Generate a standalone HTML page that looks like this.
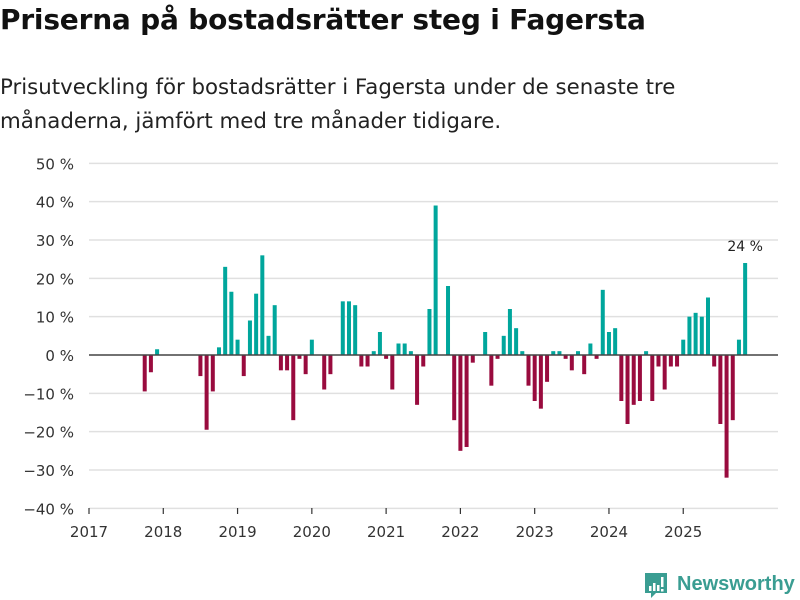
<!DOCTYPE html>
<html><head><meta charset="utf-8"><style>
body{margin:0;background:#fff;font-family:"DejaVu Sans","Liberation Sans",sans-serif;}
#wrap{position:relative;width:800px;height:600px;overflow:hidden;}
h1{position:absolute;left:0;top:3px;margin:0;font-size:28px;font-weight:bold;color:#111;letter-spacing:-0.2px;}
p.sub{position:absolute;left:0;top:71px;margin:0;font-size:21.3px;line-height:34px;color:#222;}
svg{position:absolute;left:0;top:0;}
</style></head><body><div id="wrap">
<h1>Priserna på bostadsrätter steg i Fagersta</h1>
<p class="sub">Prisutveckling för bostadsrätter i Fagersta under de senaste tre<br>månaderna, jämfört med tre månader tidigare.</p>
<svg id="chart" width="800" height="600"></svg>
</div>
<script>
const monthIndex=[9,10,11,18,19,20,21,22,23,24,25,26,27,28,29,30,31,32,33,34,35,36,38,39,41,42,43,44,45,46,47,48,49,50,51,52,53,54,55,56,58,59,60,61,62,64,65,66,67,68,69,70,71,72,73,74,75,76,77,78,79,80,81,82,83,84,85,86,87,88,89,90,91,92,93,94,95,96,97,98,99,100,101,102,103,104,105,106];
const values=[-9.5,-4.5,1.5,-5.5,-19.5,-9.5,2,23,16.5,4,-5.5,9,16,26,5,13,-4,-4,-17,-1,-5,4,-9,-5,14,14,13,-3,-3,1,6,-1,-9,3,3,1,-13,-3,12,39,18,-17,-25,-24,-2,6,-8,-1,5,12,7,1,-8,-12,-14,-7,1,1,-1,-4,1,-5,3,-1,17,6,7,-12,-18,-13,-12,1,-12,-3,-9,-3,-3,4,10,11,10,15,-3,-18,-32,-17,4,24];
const yTicks=[50,40,30,20,10,0,-10,-20,-30,-40];
const years=[2017,2018,2019,2020,2021,2022,2023,2024,2025];
const NS="http://www.w3.org/2000/svg";
const svg=document.getElementById('chart');
const x0=89,mw=6.19,yZero=355,pp=3.833;
const X=m=>x0+m*mw;
const Y=v=>yZero-v*pp;
function mk(t,a){const e=document.createElementNS(NS,t);for(const k in a)e.setAttribute(k,a[k]);svg.appendChild(e);return e;}
yTicks.forEach(t=>{
 if(t!==0){const g=mk('line',{x1:89,x2:778,y1:Y(t),y2:Y(t),stroke:'#e0e0e0','stroke-width':1.5});
 
 }
 const l=mk('text',{x:74,y:Y(t)+6,'text-anchor':'end','font-size':15,fill:'#333'});
 l.textContent=(t<0?'\u2212'+(-t):t)+' %';
 
 
});
years.forEach((yr,i)=>{
 const xx=X(i*12);
 const tk=mk('line',{x1:xx,x2:xx,y1:508,y2:514,stroke:'#333','stroke-width':1.2});
 
 
 const l=mk('text',{x:xx,y:537,'text-anchor':'middle','font-size':15,fill:'#333'});
 l.textContent=yr;
 
 
});
values.forEach((v,i)=>{
 const xx=X(monthIndex[i]);
 const r=mk('rect',{x:xx-2,width:4,y:Math.min(Y(v),yZero),height:Math.abs(Y(v)-yZero),fill:v>=0?'#00a69c':'#990b3e'});
 
 
});
const z=mk('line',{x1:89,x2:778,y1:yZero,y2:yZero,stroke:'#444','stroke-width':1.5});


const li=values.length-1;
const lab=mk('text',{x:X(monthIndex[li]),y:Y(values[li])-12,'text-anchor':'middle','font-size':14,fill:'#222'});
lab.textContent=values[li]+' %';


</script>
<svg width="800" height="600" style="position:absolute;left:0;top:0;pointer-events:none">
<path d="M645 573 h22 v20 h-11 l-5 5 v-5 h-6z" fill="#3a9d92"/>
<rect x="649" y="586" width="2.5" height="5" fill="#fff"/><rect x="653" y="583" width="2.5" height="8" fill="#fff"/><rect x="657" y="585" width="2.5" height="6" fill="#fff"/><rect x="661" y="577" width="2.5" height="10" fill="#fff"/><rect x="661" y="589" width="2.5" height="2.5" fill="#fff"/>
<text x="677" y="590" font-size="20" font-weight="bold" fill="#3a9d92" font-family="Liberation Sans, sans-serif">Newsworthy</text>
</svg>
</body></html>
